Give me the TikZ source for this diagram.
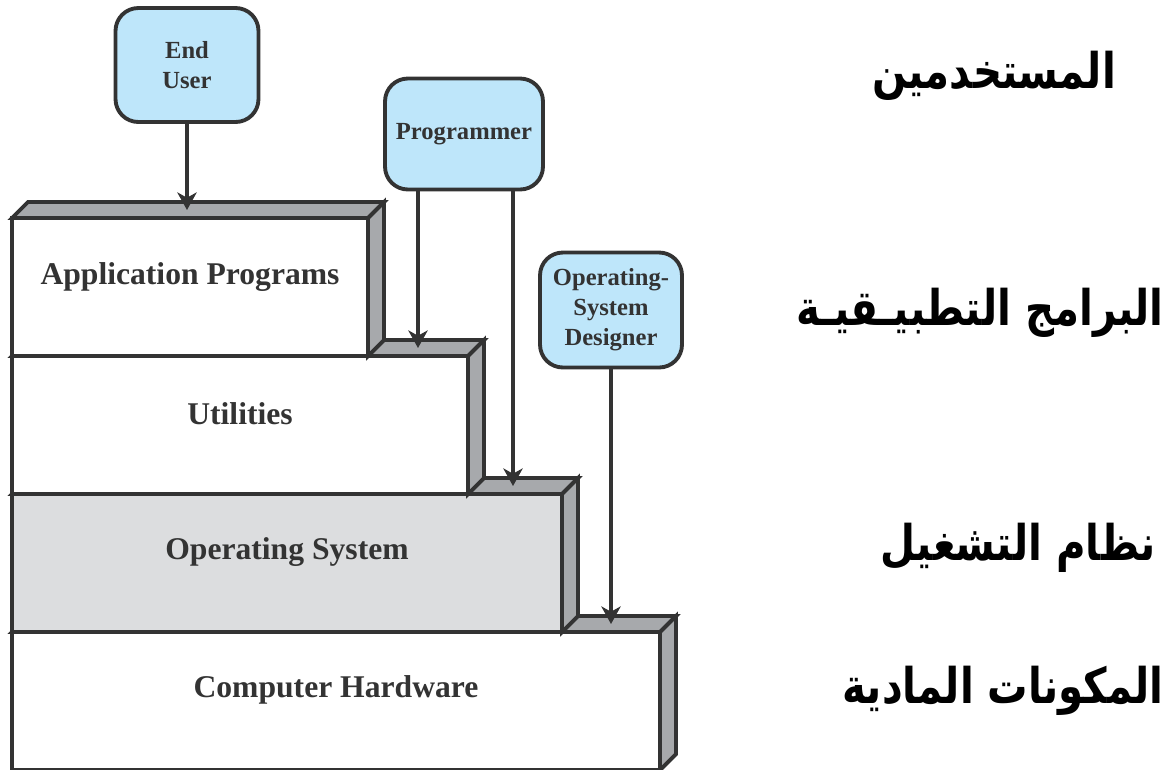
\documentclass[tikz,border=0pt]{standalone}
\usepackage{fontspec}
\setmainfont{Liberation Serif}
\newfontfamily\arabicfont[Script=Arabic, FakeStretch=0.82]{DejaVu Sans}
\TeXXeTstate=1
\usetikzlibrary{arrows.meta}
\definecolor{blue1}{RGB}{190, 230, 250}
\definecolor{gray1}{RGB}{167, 169, 172}
\definecolor{gray2}{RGB}{220, 221, 223}
\definecolor{ink}{RGB}{51, 51, 51}

\begin{document}
\begin{tikzpicture}[x=0.02cm, y=-0.02cm, line width=2.2pt, color=ink,
  actor/.style={rectangle, rounded corners=13pt, draw=ink, fill=blue1, align=center,
    inner sep=0pt, font=\fontsize{14}{17}\selectfont\bfseries},
  tier/.style={font=\fontsize{18}{22}\selectfont\bfseries},
  arab/.style={text=black, font=\arabicfont\fontsize{28}{34}\selectfont\bfseries},
  tip/.style={-{Stealth[length=10pt,width=11pt,inset=3pt]}}]
  \useasboundingbox (0,0) rectangle (1176,769);
  % the four layers, bottom one first
  \foreach \top/\right/\shade in {632/660/white, 494/562/gray2, 356/468/white, 218/368/white} {
    \filldraw[fill=\shade] (12,\top) rectangle (\right,\top+138);
    \filldraw[fill=gray1] (12,\top) -- ++(16,-16) -- (\right+16,\top-16) -- (\right,\top) -- cycle;
    \filldraw[fill=gray1] (\right,\top) -- (\right+16,\top-16) -- (\right+16,\top+122) -- (\right,\top+138) -- cycle;
  }
  \node[tier] (app) at (190,277) {Application Programs};
  \node[tier] (util) at (240,414) {Utilities};
  \node[tier] (os) at (287,552) {Operating System};
  \node[tier] (hw) at (336,690) {Computer Hardware};
  % users of each layer
  \node[actor, minimum width=2.86cm, minimum height=2.28cm] (user) at (187,65) {End\\User};
  \node[actor, minimum width=3.16cm, minimum height=2.22cm] (prog) at (464,134) {Programmer};
  \node[actor, minimum width=2.84cm, minimum height=2.3cm] (osd) at (611,310) {Operating-\\System\\Designer};
  \coordinate (appin) at (187,210);
  \coordinate (utilin) at (418,348);
  \coordinate (osin) at (513,486);
  \coordinate (hwin) at (611,624);
  \foreach \from/\to in {user/appin, osd/hwin}
   \draw[tip] (\from) -- (\to);
  \draw[tip] (prog.south -| utilin) -- (utilin);
  \draw[tip] (prog.south -| osin) -- (osin);
  % arabic captions
  \node[arab] (usersar) at (994,76) {\beginR المستخدمين\endR};
  \node[arab] (appar) at (980,313) {\beginR البرامج التطبيـقيـة\endR};
  \node[arab] (osar) at (1018,548) {\beginR نظام التشغيل\endR};
  \node[arab] (hwar) at (1003,691) {\beginR المكونات المادية\endR};
\end{tikzpicture}
\end{document}
